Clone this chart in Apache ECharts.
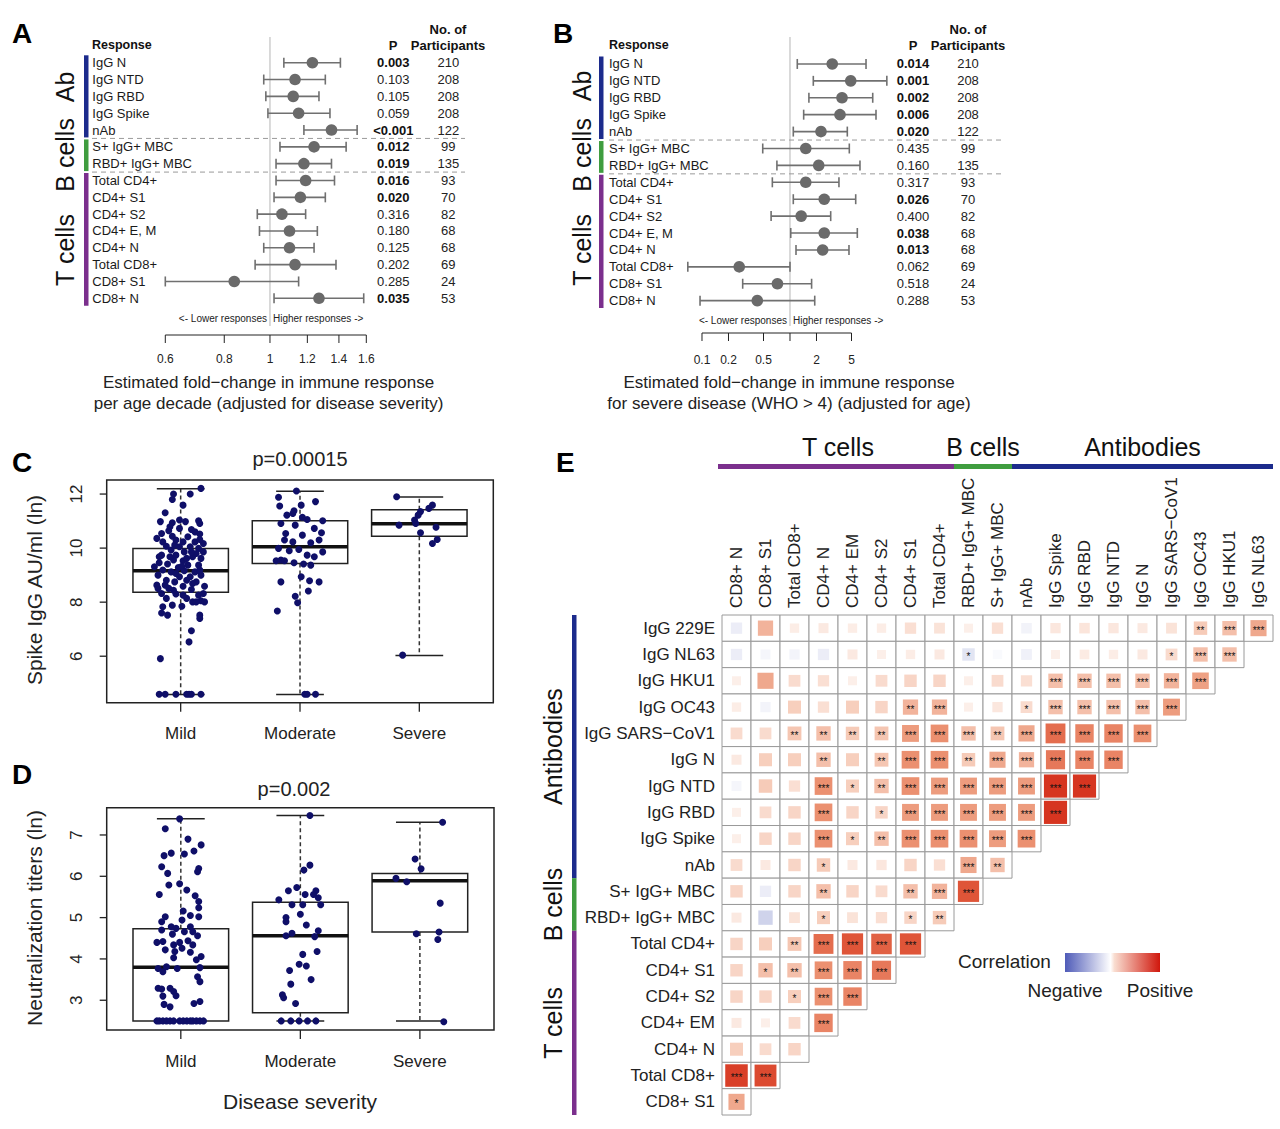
<!DOCTYPE html>
<html>
<head>
<meta charset="utf-8">
<script src="https://cdn.jsdelivr.net/npm/echarts@6/dist/echarts.min.js"></script>
<style>html,body{margin:0;padding:0;background:#fff}#c{width:1280px;height:1129px}</style>
</head>
<body>
<div id="c"></div>
<script>
const FONT = '"Liberation Sans", Arial, Helvetica, sans-serif';
const BLUE = '#1c2b8c', GREEN = '#3f9d3f', PURPLE = '#7b2f8d';

// ---------- Panels A & B (forest plots) ----------
const forestRows = ['IgG N','IgG NTD','IgG RBD','IgG Spike','nAb','S+ IgG+ MBC','RBD+ IgG+ MBC','Total CD4+','CD4+ S1','CD4+ S2','CD4+ E, M','CD4+ N','Total CD8+','CD8+ S1','CD8+ N'];
const aLo  = [1.07,0.97,0.98,0.99,1.18,1.05,1.03,1.03,1.02,0.94,0.95,0.97,0.93,0.60,1.02];
const aEst = [1.23,1.13,1.12,1.15,1.35,1.24,1.18,1.19,1.16,1.06,1.10,1.10,1.13,0.84,1.27];
const aHi  = [1.41,1.31,1.27,1.34,1.53,1.45,1.35,1.37,1.31,1.19,1.26,1.24,1.38,1.15,1.58];
const aP   = ['0.003','0.103','0.105','0.059','<0.001','0.012','0.019','0.016','0.020','0.316','0.180','0.125','0.202','0.285','0.035'];
const aN   = ['210','208','208','208','122','99','135','93','70','82','68','68','69','24','53'];
const bLo  = [1.21,1.84,1.64,1.43,1.09,0.49,0.71,0.63,1.09,0.61,1.02,1.17,0.069,0.29,0.095];
const bEst = [3.02,4.90,3.90,3.70,2.25,1.51,2.12,1.51,2.45,1.34,2.45,2.35,0.265,0.72,0.425];
const bHi  = [7.31,12.6,8.71,9.49,4.48,4.72,6.24,3.60,5.58,2.90,5.82,4.68,1.00,1.76,1.91];
const bP   = ['0.014','0.001','0.002','0.006','0.020','0.435','0.160','0.317','0.026','0.400','0.038','0.013','0.062','0.518','0.288'];
const bN   = ['210','208','208','208','122','99','135','93','70','82','68','68','69','24','53'];
const aTicks = [0.6,0.8,1,1.2,1.4,1.6];
const aTickLabels = ['0.6','0.8','1','1.2','1.4','1.6'];
const bTicks = [0.1,0.2,0.5,1,2,5];
const bTickLabels = ['0.1','0.2','0.5','','2','5'];
const forestGroups = [
  {name:'Ab', from:0, to:4, color:BLUE},
  {name:'B cells', from:5, to:6, color:GREEN},
  {name:'T cells', from:7, to:14, color:PURPLE}
];

// ---------- Panels C & D (box plots) ----------
const severity = ['Mild','Moderate','Severe'];
const cMin = [4.58,4.58,6.03], cQ1 = [8.37,9.43,10.44], cMed = [9.16,10.05,10.90], cQ3 = [9.99,11.01,11.42], cMax = [12.20,12.10,11.89];
const dMin = [2.50,2.50,2.50], dQ1 = [2.50,2.70,4.65], dMed = [3.80,4.56,5.89], dQ3 = [4.73,5.37,6.07], dMax = [7.39,7.47,7.31];
const cYTicks = [6,8,10,12];
const dYTicks = [3,4,5,6,7];
// points: [jitter offset from group position, value]
const cMildPts = [[0.17,12.21],[-0.06,12.0],[-0.07,11.80],[0.08,12.0],[0.02,11.59],[-0.13,11.31],[-0.17,10.98],[-0.07,10.94],[0.04,10.98],[0.15,11.01],[0.16,10.91],[-0.01,10.73],[0.09,10.69],[-0.10,10.64],[-0.16,10.54],[-0.20,10.36],[-0.07,10.44],[0.06,10.42],[0.16,10.52],[-0.15,10.23],[-0.04,10.30],[0.02,10.23],[0.12,10.23],[0.19,10.17],[-0.12,10.07],[-0.01,10.05],[0.08,10.05],[0.15,9.99],[-0.08,9.93],[0.03,9.86],[0.19,9.86],[-0.16,9.74],[-0.04,9.74],[0.10,9.68],[0.17,9.62],[-0.06,9.56],[0.02,9.53],[-0.18,9.46],[-0.11,9.41],[0.06,9.37],[0.15,9.37],[-0.02,9.28],[-0.15,9.19],[-0.08,9.12],[0.03,9.16],[0.12,9.12],[-0.19,9.00],[-0.01,8.94],[0.08,8.94],[0.17,9.00],[-0.12,8.81],[-0.05,8.75],[0.13,8.75],[-0.20,8.63],[0.02,8.59],[0.20,8.59],[-0.10,8.51],[0.09,8.47],[-0.16,8.32],[-0.04,8.30],[0.15,8.26],[-0.12,8.14],[0.05,8.14],[0.17,8.05],[0.10,8.01],[-0.15,7.83],[-0.07,7.89],[0.01,7.85],[-0.16,7.60],[-0.11,7.52],[0.16,7.52],[0.16,7.40],[0.09,6.94],[0.07,6.53],[-0.17,5.91],[-0.18,4.59],[-0.13,4.59],[-0.04,4.59],[0.05,4.59],[0.07,4.59],[0.09,4.59],[0.17,4.59],[-0.18,9.68],[0.05,9.62],[-0.09,9.68],[0.13,9.80],[-0.05,10.11],[0.09,9.86],[0.01,9.33],[0.16,9.19],[-0.22,9.31],[-0.04,9.06],[0.10,8.69],[-0.06,8.44],[0.19,8.32],[0.02,8.26],[-0.19,8.51],[0.13,8.01],[0.20,8.01],[-0.13,8.63],[0.05,8.81],[-0.09,10.79],[0.12,10.60],[-0.01,11.04],[0.16,10.32]];
const cModPts = [[-0.03,12.11],[-0.18,11.88],[0.13,11.72],[-0.17,11.56],[0.01,11.59],[-0.05,11.38],[-0.11,11.22],[0.02,11.14],[-0.06,11.28],[0.19,11.01],[0.06,11.06],[-0.16,10.91],[-0.04,10.85],[0.12,10.73],[-0.12,10.54],[0.18,10.57],[0.02,10.48],[-0.06,10.23],[0.09,10.20],[-0.13,10.30],[0.16,10.30],[-0.18,9.99],[-0.01,9.95],[-0.09,9.90],[0.19,9.86],[0.06,9.74],[0.12,9.68],[-0.20,9.53],[-0.16,9.56],[-0.13,9.53],[-0.05,9.46],[0.03,9.41],[0.09,9.37],[0.01,8.94],[-0.16,8.75],[0.08,8.79],[0.16,8.75],[0.07,8.41],[-0.04,8.22],[-0.02,7.98],[-0.19,7.67],[0.04,4.59],[0.06,4.59],[0.13,4.59]];
const cSevPts = [[-0.19,11.90],[0.11,11.59],[0.08,11.47],[0.01,11.35],[-0.01,11.22],[-0.04,11.04],[-0.17,10.85],[-0.03,10.91],[0.14,10.77],[0.01,10.57],[0.15,10.32],[0.11,10.17],[-0.14,6.04]];
const dMildPts = [[-0.01,7.39],[-0.13,7.15],[0.06,6.90],[0.11,6.61],[0.17,6.76],[-0.14,6.50],[-0.08,6.56],[0.03,6.54],[-0.16,6.23],[0.15,6.19],[-0.11,6.07],[0.14,6.11],[-0.10,5.79],[-0.01,5.82],[-0.18,5.56],[0.05,5.67],[0.12,5.53],[0.15,5.39],[0.15,5.24],[0.02,5.16],[0.08,5.05],[-0.16,4.90],[-0.13,5.02],[0.15,5.02],[0.01,4.94],[-0.08,4.78],[-0.04,4.74],[0.08,4.78],[0.10,4.66],[-0.16,4.70],[0.14,4.56],[-0.07,4.60],[0.03,4.66],[-0.20,4.40],[-0.15,4.42],[-0.06,4.34],[-0.01,4.40],[0.06,4.44],[0.10,4.34],[-0.13,4.22],[-0.05,4.18],[0.01,4.26],[0.08,4.16],[-0.06,4.03],[0.17,4.06],[0.13,3.98],[-0.19,3.77],[-0.12,3.81],[-0.03,3.77],[0.16,3.79],[-0.15,3.69],[0.14,3.57],[0.16,3.45],[-0.19,3.29],[-0.16,3.27],[-0.09,3.29],[-0.06,3.21],[-0.04,3.11],[-0.15,3.10],[0.16,2.97],[0.11,2.92],[-0.14,2.90],[-0.09,2.84],[-0.20,2.5],[-0.18,2.5],[-0.15,2.5],[-0.12,2.5],[-0.09,2.5],[-0.06,2.5],[-0.01,2.5],[0.02,2.5],[0.05,2.5],[0.08,2.5],[0.10,2.5],[0.13,2.5],[0.16,2.5],[0.19,2.5]];
const dModPts = [[0.08,7.47],[0.08,6.27],[0.03,6.15],[-0.03,5.73],[-0.10,5.65],[0.13,5.65],[0.04,5.56],[0.11,5.56],[0.15,5.48],[-0.18,5.43],[-0.07,5.31],[0.02,5.31],[0.17,5.31],[0.00,5.08],[-0.12,5.00],[-0.12,4.90],[0.05,4.82],[0.15,4.68],[-0.07,4.62],[-0.12,4.56],[0.12,4.54],[0.02,4.11],[0.14,4.18],[-0.01,3.87],[0.05,3.83],[-0.09,3.72],[0.09,3.50],[-0.08,3.39],[-0.15,3.13],[-0.14,3.06],[-0.04,2.92],[-0.16,2.5],[-0.08,2.5],[-0.01,2.5],[0.06,2.5],[0.13,2.5]];
const dSevPts = [[0.19,7.31],[-0.04,6.42],[0.01,6.18],[-0.20,5.95],[-0.11,5.87],[0.17,5.35],[-0.03,4.61],[0.16,4.65],[0.15,4.47],[0.20,2.48]];

// ---------- Panel E (correlation matrix) ----------
const eCols = ['CD8+ N','CD8+ S1','Total CD8+','CD4+ N','CD4+ EM','CD4+ S2','CD4+ S1','Total CD4+','RBD+ IgG+ MBC','S+ IgG+ MBC','nAb','IgG Spike','IgG RBD','IgG NTD','IgG N','IgG SARS\u2212CoV1','IgG OC43','IgG HKU1','IgG NL63'];
const eRows = ['IgG 229E','IgG NL63','IgG HKU1','IgG OC43','IgG SARS\u2212CoV1','IgG N','IgG NTD','IgG RBD','IgG Spike','nAb','S+ IgG+ MBC','RBD+ IgG+ MBC','Total CD4+','CD4+ S1','CD4+ S2','CD4+ EM','CD4+ N','Total CD8+','CD8+ S1'];
const eCorr = [
  [-0.10,0.30,0.03,0.05,0.03,0.03,0.10,0.08,0.02,0.10,-0.07,0.06,0.07,0.06,0.05,0.08,0.20,0.25,0.35],
  [-0.10,-0.05,-0.06,-0.10,0.05,0.02,0.03,0.05,-0.15,-0.03,-0.08,0.02,0.04,0.03,0.05,0.12,0.25,0.25],
  [0.02,0.35,0.12,0.10,0.02,0.12,0.15,0.15,0.02,0.12,0.10,0.25,0.25,0.25,0.25,0.30,0.38],
  [0.03,-0.06,0.18,0.10,0.18,0.15,0.30,0.30,0.02,0.06,0.12,0.25,0.25,0.25,0.25,0.40],
  [0.12,0.12,0.22,0.25,0.20,0.22,0.40,0.45,0.25,0.22,0.35,0.60,0.50,0.50,0.45],
  [0.05,0.18,0.18,0.25,0.18,0.22,0.45,0.45,0.20,0.35,0.30,0.55,0.50,0.50],
  [-0.05,0.20,0.10,0.45,0.18,0.25,0.45,0.40,0.40,0.40,0.40,0.85,0.85],
  [0.02,0.12,0.15,0.45,0.15,0.15,0.40,0.40,0.40,0.40,0.40,0.85],
  [0.02,0.15,0.15,0.45,0.18,0.25,0.45,0.45,0.45,0.40,0.45],
  [0.12,0.05,0.15,0.20,0.05,0.06,0.15,0.10,0.35,0.25],
  [0.15,-0.10,0.15,0.25,0.15,0.12,0.25,0.30,0.70],
  [0.05,-0.25,0.08,0.18,0.08,0.10,0.15,0.20],
  [0.15,0.18,0.22,0.60,0.70,0.65,0.70],
  [0.15,0.25,0.25,0.45,0.50,0.55],
  [0.15,0.15,0.18,0.45,0.50],
  [0.05,0.02,0.12,0.50],
  [0.18,0.12,0.15],
  [0.80,0.75],
  [0.35]
];
// significance stars per cell (number of '*')
const eSig = [
  [0,0,0,0,0,0,0,0,0,0,0,0,0,0,0,0,2,3,3],
  [0,0,0,0,0,0,0,0,1,0,0,0,0,0,0,1,3,3],
  [0,0,0,0,0,0,0,0,0,0,0,3,3,3,3,3,3],
  [0,0,0,0,0,0,2,3,0,0,1,3,3,3,3,3],
  [0,0,2,2,2,2,3,3,3,2,3,3,3,3,3],
  [0,0,0,2,0,2,3,3,2,3,3,3,3,3],
  [0,0,0,3,1,2,3,3,3,3,3,3,3],
  [0,0,0,3,0,1,3,3,3,3,3,3],
  [0,0,0,3,1,2,3,3,3,3,3],
  [0,0,0,1,0,0,0,0,3,2],
  [0,0,0,2,0,0,2,3,3],
  [0,0,0,1,0,0,1,2],
  [0,0,2,3,3,3,3],
  [0,1,2,3,3,3],
  [0,0,1,3,3],
  [0,0,0,3],
  [0,0,0],
  [3,3],
  [1]
];
const eColGroups = [{name:'T cells',from:0,to:7,color:PURPLE},{name:'B cells',from:8,to:9,color:GREEN},{name:'Antibodies',from:10,to:18,color:BLUE}];
const eRowGroups = [{name:'Antibodies',from:0,to:9,color:BLUE},{name:'B cells',from:10,to:11,color:GREEN},{name:'T cells',from:12,to:18,color:PURPLE}];

// ---------- helpers ----------
function isSig(p){ return p.charAt(0) === '<' || parseFloat(p) < 0.05; }
function ts(size, weight, color){ return {fontSize:size, fontFamily:FONT, fontWeight:weight||'normal', fill:color||'#222'}; }
function T(text, x, y, size, opts){
  opts = opts || {};
  return {type:'text', x:x, y:y, rotation:opts.rot||0, silent:true,
    style:Object.assign({text:text, align:opts.align||'center', verticalAlign:'middle'}, ts(size, opts.weight, opts.color))};
}
function hex2rgb(h){ return [parseInt(h.substr(1,2),16),parseInt(h.substr(3,2),16),parseInt(h.substr(5,2),16)]; }
function mix(a,b,t){ const A=hex2rgb(a),B=hex2rgb(b); return 'rgb('+A.map((v,i)=>Math.round(v+(B[i]-v)*t)).join(',')+')'; }
const posStops = [[0,'#fdf3ee'],[0.2,'#f6cbb8'],[0.45,'#eb9070'],[0.7,'#df5538'],[1,'#cc1407']];
function corrColor(r){
  if (r < 0) return mix('#ffffff','#3f4fb0',Math.min(1,-r));
  for (let k=1;k<posStops.length;k++){
    if (r <= posStops[k][0]){ const a=posStops[k-1], b=posStops[k]; return mix(a[1],b[1],(r-a[0])/(b[0]-a[0])); }
  }
  return posStops[posStops.length-1][1];
}

function forestItem(params, api){
  const row = api.value(3);
  const lo = api.coord([api.value(0), row]);
  const pt = api.coord([api.value(1), row]);
  const hi = api.coord([api.value(2), row]);
  const y = pt[1];
  const st = {stroke:'#707070', lineWidth:1.6};
  return {type:'group', children:[
    {type:'line', shape:{x1:lo[0],y1:y,x2:hi[0],y2:y}, style:st},
    {type:'line', shape:{x1:lo[0],y1:y-5,x2:lo[0],y2:y+5}, style:st},
    {type:'line', shape:{x1:hi[0],y1:y-5,x2:hi[0],y2:y+5}, style:st},
    {type:'circle', shape:{cx:pt[0],cy:y,r:5.8}, style:{fill:'#6a6a6a'}}
  ]};
}
function forestDecor(cfg){
  return function(params, api){
    const cs = params.coordSys;
    const h = api.size([1,1])[1];
    const x1 = api.coord([1,0])[0];
    const ch = [];
    ch.push({type:'line', shape:{x1:x1,y1:cfg.refTop,x2:x1,y2:cfg.refBottom}, style:{stroke:'#b5b5b5',lineWidth:1}});
    forestGroups.forEach((g,k)=>{
      const y0 = cs.y + g.from*h + 1, y1 = cs.y + (g.to+1)*h - 1;
      ch.push({type:'rect', shape:{x:cs.x+cfg.barDx, y:y0, width:4.5, height:y1-y0}, style:{fill:g.color}});
      ch.push(T(g.name, cs.x+cfg.lblDx, cs.y+(cfg.lblRows[k]+0.5)*h, 25, {rot:Math.PI/2, color:'#111'}));
    });
    forestGroups.slice(1).forEach(g=>{
      const y = cs.y + g.from*h;
      ch.push({type:'line', shape:{x1:cs.x+cfg.sepL,y1:y,x2:cs.x+cfg.sepR,y2:y}, style:{stroke:'#9a9a9a',lineWidth:1,lineDash:[5,4]}});
    });
    ch.push(T('<- Lower responses', x1-3, cfg.respY, 10, {align:'right'}));
    ch.push(T('Higher responses ->', x1+3, cfg.respY, 10, {align:'left'}));
    const xs = cfg.ticks.map(t=>api.coord([t,0])[0]);
    ch.push({type:'line', shape:{x1:xs[0],y1:cfg.axisY,x2:xs[xs.length-1],y2:cfg.axisY}, style:{stroke:'#222',lineWidth:1}});
    xs.forEach((x,k)=>{
      ch.push({type:'line', shape:{x1:x,y1:cfg.axisY,x2:x,y2:cfg.axisY+8}, style:{stroke:'#222',lineWidth:1}});
      if (cfg.labels[k]) ch.push(T(cfg.labels[k], x, cfg.tickLabelY, 12));
    });
    return {type:'group', children:ch};
  };
}
function boxItem(params, api){
  const x = api.value(0);
  const xl = api.coord([x-0.4, api.value(2)])[0], xr = api.coord([x+0.4, api.value(2)])[0];
  const cl = api.coord([x-0.2, api.value(2)])[0], cr = api.coord([x+0.2, api.value(2)])[0];
  const xc = api.coord([x, api.value(2)])[0];
  const yMin = api.coord([x, api.value(1)])[1], yQ1 = api.coord([x, api.value(2)])[1];
  const yMed = api.coord([x, api.value(3)])[1], yQ3 = api.coord([x, api.value(4)])[1];
  const yMax = api.coord([x, api.value(5)])[1];
  const s = {stroke:'#222', lineWidth:1.5};
  const d = {stroke:'#333', lineWidth:1.5, lineDash:[4,3]};
  return {type:'group', children:[
    {type:'line', shape:{x1:xc,y1:yQ3,x2:xc,y2:yMax}, style:d},
    {type:'line', shape:{x1:xc,y1:yQ1,x2:xc,y2:yMin}, style:d},
    {type:'line', shape:{x1:cl,y1:yMax,x2:cr,y2:yMax}, style:s},
    {type:'line', shape:{x1:cl,y1:yMin,x2:cr,y2:yMin}, style:s},
    {type:'rect', shape:{x:xl,y:yQ3,width:xr-xl,height:yQ1-yQ3}, style:{fill:'none',stroke:'#222',lineWidth:1.5}},
    {type:'line', shape:{x1:xl,y1:yMed,x2:xr,y2:yMed}, style:{stroke:'#111',lineWidth:3.5}}
  ]};
}
function boxDecor(yTicks){
  return function(params, api){
    const cs = params.coordSys; const ch = [];
    yTicks.forEach(v=>{
      const y = api.coord([1, v])[1];
      ch.push({type:'line', shape:{x1:cs.x-7,y1:y,x2:cs.x,y2:y}, style:{stroke:'#222',lineWidth:1.3}});
      ch.push(T(String(v), cs.x-30, y, 17, {rot:Math.PI/2}));
    });
    severity.forEach((name,k)=>{
      const x = api.coord([k+1, yTicks[0]])[0];
      const yb = cs.y + cs.height;
      ch.push({type:'line', shape:{x1:x,y1:yb,x2:x,y2:yb+9}, style:{stroke:'#222',lineWidth:1.3}});
      ch.push(T(name, x, yb+31, 17));
    });
    return {type:'group', children:ch};
  };
}
function heatItem(params, api){
  const j = api.value(0), i = api.value(1), r = api.value(2), s = api.value(3);
  const c = api.coord([j, i]); const sz = api.size([1,1]);
  const w = sz[0], h = sz[1];
  const frac = 0.3 + 0.65*Math.pow(Math.abs(r), 0.7);
  const side = Math.min(w,h)*frac;
  const ch = [
    {type:'rect', shape:{x:c[0]-w/2, y:c[1]-h/2, width:w, height:h}, style:{fill:'#fff', stroke:'#9a9a9a', lineWidth:1}},
    {type:'rect', shape:{x:c[0]-side/2, y:c[1]-side/2, width:side, height:side}, style:{fill:corrColor(r)}}
  ];
  if (s > 0) ch.push({type:'text', x:c[0], y:c[1]+2, style:Object.assign({text:'*'.repeat(s), align:'center', verticalAlign:'middle'}, ts(10,'normal','#111'))});
  return {type:'group', children:ch};
}
function eDecor(params, api){
  const cs = params.coordSys; const sz = api.size([1,1]); const w = sz[0], h = sz[1];
  const ch = [];
  eCols.forEach((name,j)=>{
    const x = api.coord([j, 0])[0];
    ch.push(T(name, x, cs.y-7, 17, {rot:Math.PI/2, align:'left'}));
  });
  eColGroups.forEach(g=>{
    const x0 = cs.x + g.from*w - (g.from===0 ? 4 : 0), x1 = cs.x + (g.to+1)*w;
    ch.push({type:'rect', shape:{x:x0, y:cs.y-151, width:x1-x0, height:5}, style:{fill:g.color}});
    ch.push(T(g.name, (cs.x + g.from*w + x1)/2, cs.y-168, 25, {color:'#111'}));
  });
  eRowGroups.forEach(g=>{
    const y0 = cs.y + g.from*h, y1 = cs.y + (g.to+1)*h;
    ch.push({type:'rect', shape:{x:cs.x-150, y:y0, width:4.5, height:y1-y0}, style:{fill:g.color}});
    ch.push(T(g.name, cs.x-169, (y0+y1)/2, 25, {rot:Math.PI/2, color:'#111'}));
  });
  return {type:'group', children:ch};
}

// ---------- build options ----------
function forestAxes(grid, pArr, nArr, pMargin, nOffset){
  const base = {type:'category', gridIndex:grid, data:forestRows, inverse:true,
    axisLine:{show:false,onZero:false}, axisTick:{show:false}, splitLine:{show:false}};
  return [
    Object.assign({}, base, {position:'left', axisLabel:{interval:0, align:'left', margin:grid===0?73:66.5, fontSize:13, fontFamily:FONT, color:'#1a1a1a'}}),
    Object.assign({}, base, {position:'right', offset:0, axisLabel:{interval:0, align:'center', margin:pMargin,
      formatter:(v,i)=> isSig(pArr[i]) ? '{b|'+pArr[i]+'}' : '{n|'+pArr[i]+'}',
      rich:{b:{fontWeight:'bold',fontSize:13,fontFamily:FONT,color:'#111'}, n:{fontSize:13,fontFamily:FONT,color:'#222'}}}}),
    Object.assign({}, base, {position:'right', offset:nOffset, axisLabel:{interval:0, align:'center', margin:0,
      formatter:(v,i)=> nArr[i], fontSize:13, fontFamily:FONT, color:'#222'}})
  ];
}
const hiddenVal = (grid, min, max) => ({type:'value', gridIndex:grid, min:min, max:max, show:false, axisLine:{onZero:false}, splitLine:{show:false}});
const toPts = (arr, pos) => arr.map(p=>[pos+p[0], p[1]]);

const option = {
  animation:false,
  backgroundColor:'#fff',
  grid:[
    {left:165.3, top:54.3, width:201, height:252.4},
    {left:675.5, top:55.5, width:218, height:253.6},
    {left:106.7, top:480, width:386.6, height:222.7, show:true, borderColor:'#222', borderWidth:1.5},
    {left:106.7, top:807.7, width:387.3, height:222.3, show:true, borderColor:'#222', borderWidth:1.5},
    {left:722, top:615, width:551, height:500}
  ],
  xAxis:[
    {type:'log', logBase:10, gridIndex:0, min:0.6, max:1.6, show:false},
    {type:'log', logBase:10, gridIndex:1, min:0.05, max:15, show:false},
    hiddenVal(2, 0.38, 3.62),
    hiddenVal(3, 0.38, 3.62),
    {type:'category', gridIndex:4, data:eCols, position:'top', axisLine:{show:false}, axisTick:{show:false}, splitLine:{show:false},
      axisLabel:{show:false}}
  ],
  yAxis: [].concat(
    forestAxes(0, aP, aN, 27, 82),
    forestAxes(1, bP, bN, 19.5, 74.5),
    [hiddenVal(2, 4.28, 12.52), hiddenVal(3, 2.28, 7.66),
     {type:'category', gridIndex:4, data:eRows, inverse:true, axisLine:{show:false}, axisTick:{show:false}, splitLine:{show:false},
      axisLabel:{interval:0, margin:7, fontSize:17, fontFamily:FONT, color:'#222'}}]
  ),
  series:[
    {type:'custom', xAxisIndex:0, yAxisIndex:0, renderItem:forestItem, encode:{x:[0,1,2], y:3},
      data:forestRows.map((_,i)=>[aLo[i],aEst[i],aHi[i],i]), z:3},
    {type:'custom', xAxisIndex:0, yAxisIndex:0, encode:{x:0,y:1}, data:[[1,0]], z:2,
      renderItem:forestDecor({ticks:aTicks, labels:aTickLabels, barDx:-81.3, lblDx:-100.3, lblRows:[1.44,5.48,11.13],
        sepL:-73.3, sepR:299.7, refTop:37, refBottom:326, respY:318, axisY:335, tickLabelY:359})},
    {type:'custom', xAxisIndex:1, yAxisIndex:3, renderItem:forestItem, encode:{x:[0,1,2], y:3},
      data:forestRows.map((_,i)=>[bLo[i],bEst[i],bHi[i],i]), z:3},
    {type:'custom', xAxisIndex:1, yAxisIndex:3, encode:{x:0,y:1}, data:[[1,0]], z:2,
      renderItem:forestDecor({ticks:bTicks, labels:bTickLabels, barDx:-76.5, lblDx:-93.5, lblRows:[1.3,5.38,11.0],
        sepL:-66.5, sepR:329.5, refTop:37, refBottom:326, respY:320, axisY:333, tickLabelY:360})},
    {type:'custom', xAxisIndex:2, yAxisIndex:6, renderItem:boxItem, encode:{x:0, y:[1,2,3,4,5]}, z:2,
      data:severity.map((_,k)=>[k+1, cMin[k], cQ1[k], cMed[k], cQ3[k], cMax[k]])},
    {type:'scatter', xAxisIndex:2, yAxisIndex:6, symbolSize:7, itemStyle:{color:'#0f0f68', opacity:1}, z:3,
      data:[].concat(toPts(cMildPts,1), toPts(cModPts,2), toPts(cSevPts,3))},
    {type:'custom', xAxisIndex:2, yAxisIndex:6, encode:{x:0,y:1}, data:[[1,6]], renderItem:boxDecor(cYTicks)},
    {type:'custom', xAxisIndex:3, yAxisIndex:7, renderItem:boxItem, encode:{x:0, y:[1,2,3,4,5]}, z:2,
      data:severity.map((_,k)=>[k+1, dMin[k], dQ1[k], dMed[k], dQ3[k], dMax[k]])},
    {type:'scatter', xAxisIndex:3, yAxisIndex:7, symbolSize:7, itemStyle:{color:'#0f0f68', opacity:1}, z:3,
      data:[].concat(toPts(dMildPts,1), toPts(dModPts,2), toPts(dSevPts,3))},
    {type:'custom', xAxisIndex:3, yAxisIndex:7, encode:{x:0,y:1}, data:[[1,3]], renderItem:boxDecor(dYTicks)},
    {type:'custom', xAxisIndex:4, yAxisIndex:8, renderItem:heatItem, encode:{x:0,y:1},
      data:[].concat(...eCorr.map((row,i)=>row.map((r,j)=>[j,i,r,eSig[i][j]])))},
    {type:'custom', xAxisIndex:4, yAxisIndex:8, encode:{x:0,y:1}, data:[[0,0]], renderItem:eDecor}
  ],
  graphic:[
    T('A', 12, 33, 28, {align:'left', weight:'bold', color:'#000'}),
    T('B', 553, 33, 28, {align:'left', weight:'bold', color:'#000'}),
    T('C', 12, 462, 28, {align:'left', weight:'bold', color:'#000'}),
    T('D', 12, 774, 28, {align:'left', weight:'bold', color:'#000'}),
    T('E', 556, 462, 28, {align:'left', weight:'bold', color:'#000'}),
    T('Response', 92, 45, 12.5, {align:'left', weight:'bold', color:'#111'}),
    T('P', 393, 45, 13, {weight:'bold', color:'#111'}),
    T('No. of', 448, 29, 13, {weight:'bold', color:'#111'}),
    T('Participants', 448, 45, 13, {weight:'bold', color:'#111'}),
    T('Response', 609, 45, 12.5, {align:'left', weight:'bold', color:'#111'}),
    T('P', 913, 45, 13, {weight:'bold', color:'#111'}),
    T('No. of', 968, 29, 13, {weight:'bold', color:'#111'}),
    T('Participants', 968, 45, 13, {weight:'bold', color:'#111'}),
    T('Estimated fold\u2212change in immune response', 268.5, 382, 17),
    T('per age decade (adjusted for disease severity)', 268.5, 403, 17),
    T('Estimated fold\u2212change in immune response', 789, 382, 17),
    T('for severe disease (WHO > 4) (adjusted for age)', 789, 403, 17),
    T('p=0.00015', 300, 459, 20),
    T('Spike IgG AU/ml (ln)', 34, 590, 21, {rot:Math.PI/2}),
    T('p=0.002', 294, 789, 20),
    T('Neutralization titers (ln)', 34, 918, 21, {rot:Math.PI/2}),
    T('Disease severity', 300, 1101, 21),
    T('Correlation', 958, 961, 19, {align:'left'}),
    {type:'rect', x:1065, y:953, shape:{width:95, height:19}, silent:true,
      style:{fill:{type:'linear', x:0, y:0, x2:1, y2:0, colorStops:[
        {offset:0,color:'#4f5bb8'},{offset:0.48,color:'#ffffff'},{offset:0.52,color:'#f9ddd0'},{offset:1,color:'#d0170c'}]}}},
    T('Negative', 1065, 990, 19),
    T('Positive', 1160, 990, 19)
  ]
};

const chart = echarts.init(document.getElementById('c'), null, {renderer:'svg', width:1280, height:1129});
chart.setOption(option);
</script>
</body>
</html>
